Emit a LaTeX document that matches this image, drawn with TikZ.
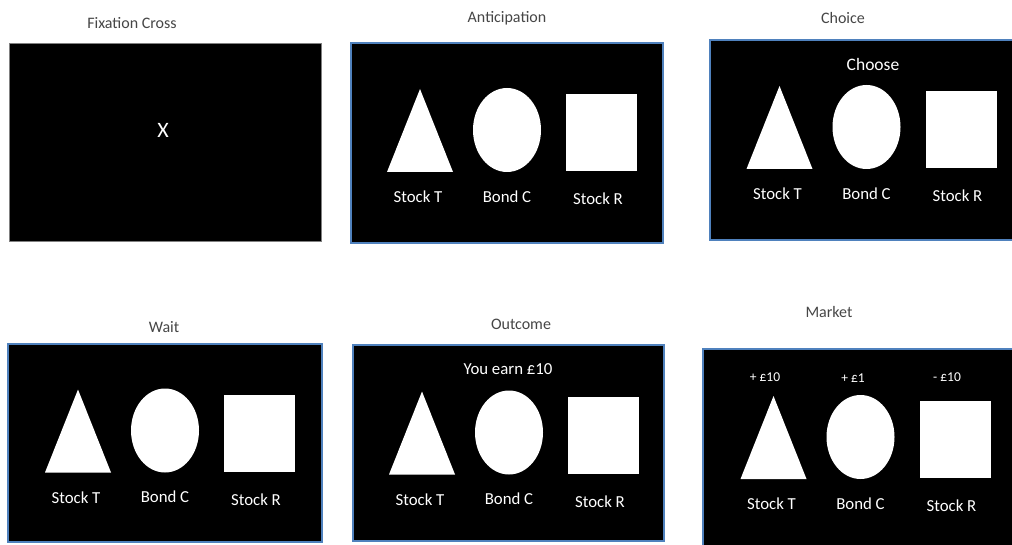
\documentclass[tikz,border=0pt]{standalone}
\usepackage{fontspec}
\setmainfont{Carlito}
\usetikzlibrary{positioning}
\definecolor{frameblue}{RGB}{79,129,189}
\definecolor{titlegray}{RGB}{70,70,70}

\begin{document}
\begin{tikzpicture}[x=1pt, y=-1pt,
  panel/.style={fill=black, draw=frameblue, line width=2.5pt, inner sep=0pt},
  title/.style={font=\fontsize{16}{19}\selectfont, text=titlegray},
  lbl/.style={font=\fontsize{16.8}{20}\selectfont, text=white},
  gain/.style={font=\fontsize{13.5}{16}\selectfont, text=white},
  icon/.style={fill=white},
]
\clip (0,0) rectangle (1012,545);
\fill[white] (0,0) rectangle (1012,545);

% Panels
\node[panel, draw=gray, line width=1pt, minimum width=312pt, minimum height=198pt] (fix) at (165,143) {};
\node[panel, minimum width=312pt, minimum height=200pt] (antic) at (507,143) {};
\node[panel, minimum width=306pt, minimum height=200pt] (choice) at (863,140) {};
\node[panel, minimum width=314pt, minimum height=198pt] (wait) at (165,443) {};
\node[panel, minimum width=311pt, minimum height=196pt] (outc) at (508.5,443) {};
\node[panel, minimum width=311pt, minimum height=199pt] (market) at (858.5,448.5) {};

% Titles
\node[title] (t-fix) at (132,23) {Fixation Cross};
\node[title] (t-antic) at (507,18) {Anticipation};
\node[title] (t-choice) at (843,18) {Choice};
\node[title] (t-wait) at (164,327) {Wait};
\node[title] (t-outc) at (521,324) {Outcome};
\node[title] (t-market) at (829,312) {Market};

% Screen texts
\node[lbl, font=\fontsize{22}{24}\selectfont] (cross) at (163,130) {X};
\node[lbl, font=\fontsize{17.5}{20}\selectfont] (choose) at (873,64) {Choose};
\node[lbl] (earn) at (508,369) {You earn £10};
\node[gain] (g-t) at (765,377) {+ £10};
\node[gain] (g-c) at (853,378) {+ £1};
\node[gain] (g-r) at (947,377) {- £10};

% Stimuli: triangle, ellipse, square
\foreach \cx/\cy/\n in {507/130/a, 866.5/127/c, 165/430.5/w, 509/432.5/o, 860.5/437/m} {
  \fill[icon] (\cx-87,\cy-41) -- (\cx-54,\cy+42) -- (\cx-120,\cy+42) -- cycle;
  \fill[icon] (\cx,\cy) ellipse [x radius=34, y radius=42];
  \fill[icon] (\cx+59,\cy-36) rectangle (\cx+130,\cy+41);
  \node[lbl] (\n-t) at (\cx-89,\cy+67) {Stock T};
  \node[lbl] (\n-c) at (\cx,\cy+66.5) {Bond C};
  \node[lbl] (\n-r) at (\cx+91,\cy+69) {Stock R};
}

\end{tikzpicture}
\end{document}
